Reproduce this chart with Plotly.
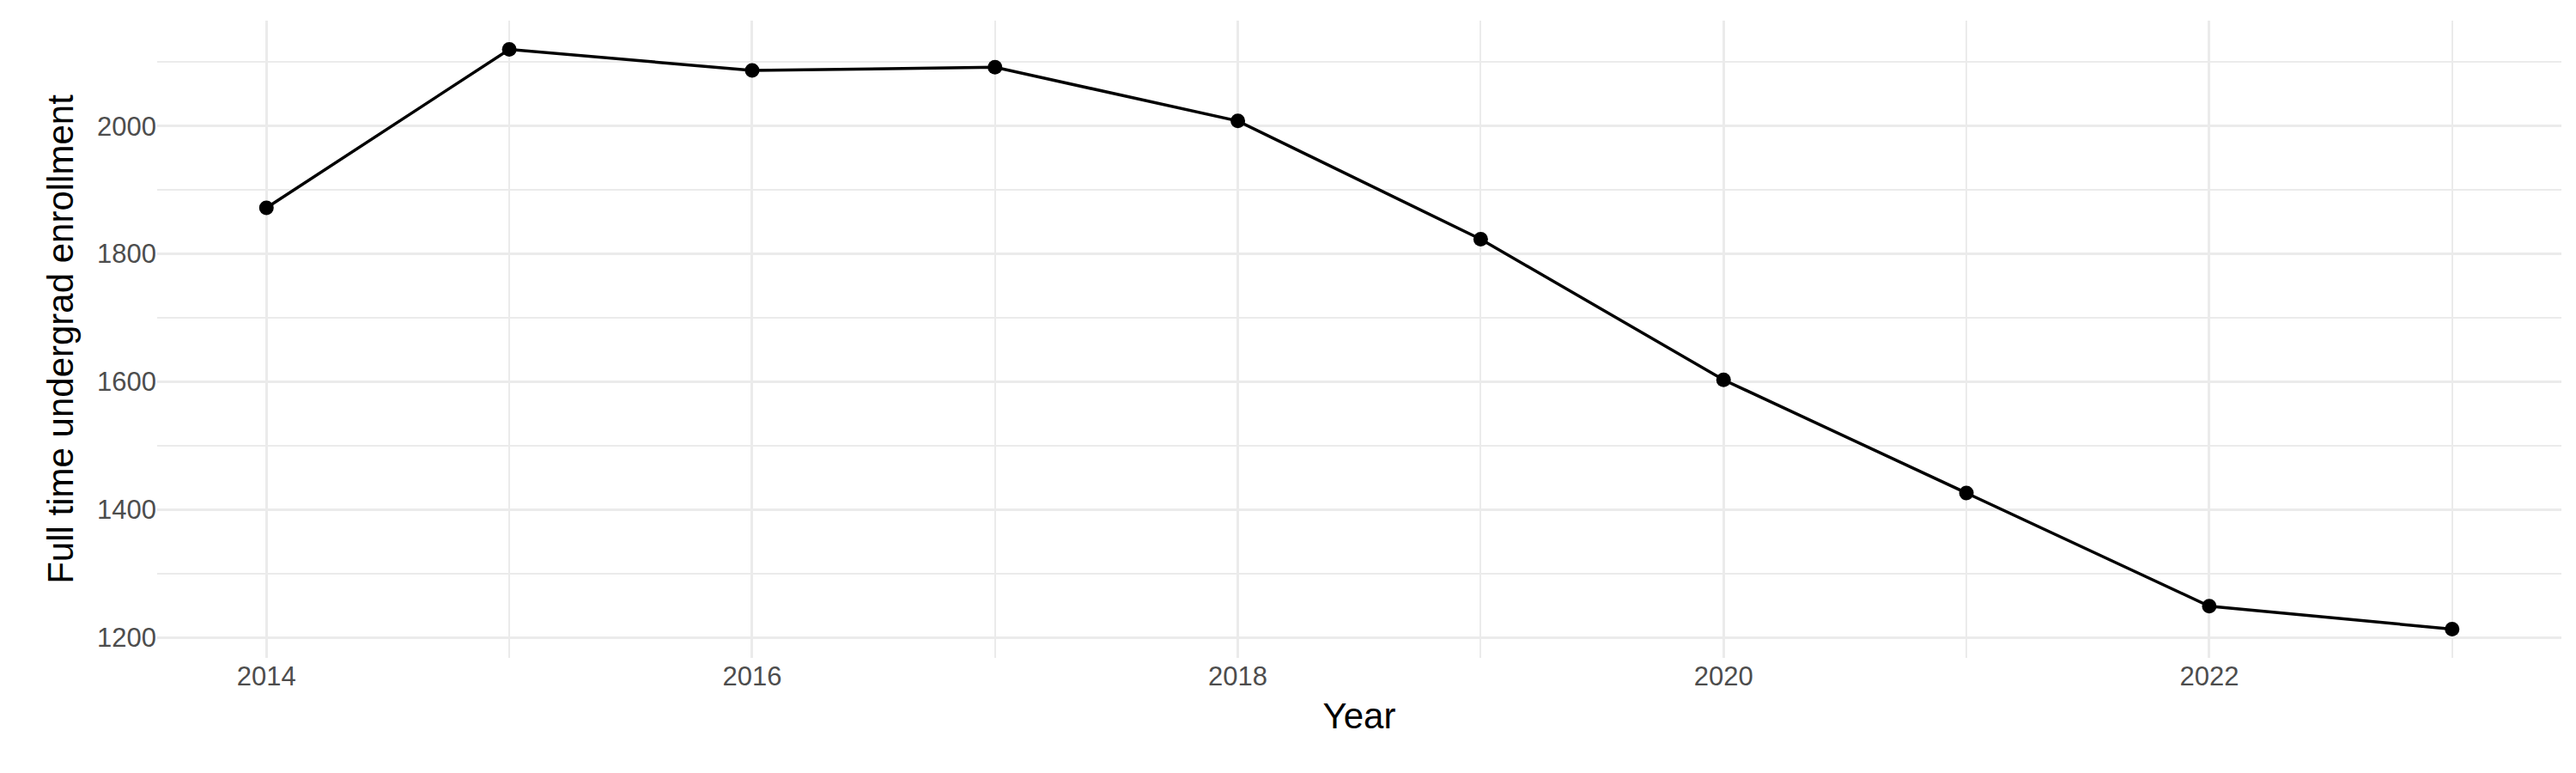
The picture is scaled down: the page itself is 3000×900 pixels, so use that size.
import plotly.graph_objects as go

years = [2014, 2015, 2016, 2017, 2018, 2019, 2020, 2021, 2022, 2023]
enrollment = [1872, 2120, 2087, 2092, 2008, 1823, 1603, 1426, 1249, 1213]

fig = go.Figure()
fig.add_trace(go.Scatter(
    x=years, y=enrollment, mode="lines+markers",
    line=dict(color="black", width=3.5),
    marker=dict(color="black", size=17),
    showlegend=False,
))

grid = "#EBEBEB"
fig.update_layout(
    width=3000, height=900,
    plot_bgcolor="white", paper_bgcolor="white",
    margin=dict(l=175, r=25, t=16, b=142),
    font=dict(family="Liberation Sans, Arial, sans-serif", color="#4D4D4D", size=31),
)
fig.update_xaxes(
    title=dict(text="Year", font=dict(size=42, color="black"), standoff=14),
    range=[2013.55, 2023.45], tickvals=[2014, 2016, 2018, 2020, 2022],
    showgrid=True, gridcolor=grid, gridwidth=3,
    minor=dict(tickvals=[2015, 2017, 2019, 2021, 2023], showgrid=True, gridcolor=grid, gridwidth=1.5),
    zeroline=False, showline=False, ticks="",
)
fig.update_yaxes(
    title=dict(text="Full time undergrad enrollment", font=dict(size=42, color="black"), standoff=14),
    range=[1168, 2165], tickvals=[1200, 1400, 1600, 1800, 2000],
    showgrid=True, gridcolor=grid, gridwidth=3,
    minor=dict(tickvals=[1300, 1500, 1700, 1900, 2100], showgrid=True, gridcolor=grid, gridwidth=1.5),
    zeroline=False, showline=False, ticks="",
)

fig.write_html("out.html")
